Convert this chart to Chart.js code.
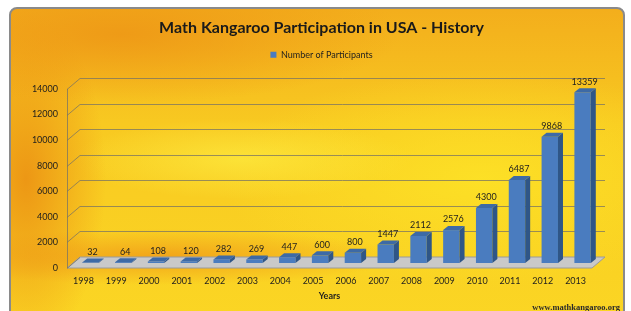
<!DOCTYPE html>
<html>
<head>
<meta charset="utf-8">
<script src="https://cdn.jsdelivr.net/npm/chart.js"></script>
<style>
  html, body { margin: 0; padding: 0; background: #fff; overflow: hidden; }
  #frame {
    position: absolute; left: 9px; top: 7px; width: 612px; height: 330px;
    border: 2px solid #8a8a8a; border-radius: 8px;
    background:
      radial-gradient(ellipse 280px 70px at 110px 25px, rgba(238,152,22,0.9), rgba(238,152,22,0) 100%),
      radial-gradient(ellipse 80px 170px at 15px 170px, rgba(236,148,20,0.95), rgba(236,148,20,0) 100%),
      radial-gradient(ellipse 240px 28px at 150px 248px, rgba(240,156,24,0.85), rgba(240,156,24,0) 100%),
      radial-gradient(ellipse 170px 40px at 230px 150px, rgba(253,232,60,0.8), rgba(253,232,60,0) 100%),
      radial-gradient(ellipse 260px 110px at 470px 170px, rgba(253,226,38,0.9), rgba(253,226,38,0) 100%),
      linear-gradient(180deg, #f3ae1c 0%, #f8c921 35%, #fbd724 100%);
  }
  #chart { position: absolute; left: 0; top: 0; }
</style>
</head>
<body>
<div id="frame"></div>
<canvas id="chart" width="631" height="311"></canvas>
<script>
const YEARS = ['1998', '1999', '2000', '2001', '2002', '2003', '2004', '2005',
               '2006', '2007', '2008', '2009', '2010', '2011', '2012', '2013'];
const PARTICIPANTS = [32, 64, 108, 120, 282, 269, 447, 600,
                      800, 1447, 2112, 2576, 4300, 6487, 9868, 13359];
const Y_MAX = 14000;
const Y_STEP = 2000;

const FONT = 'Lato';
const TEXT = '#1e1e1e';

// depth of the floor / back wall, and of each bar
const DEPTH_X = 13, DEPTH_Y = -11;
const BAR_DX = 5, BAR_DY = -4;

const pseudo3d = {
  id: 'pseudo3d',
  beforeDatasetsDraw(chart) {
    const { ctx, chartArea: a, scales: { y } } = chart;
    ctx.save();
    // floor slab
    ctx.fillStyle = '#c9c9c9';
    ctx.beginPath();
    ctx.moveTo(a.left, a.bottom);
    ctx.lineTo(a.right, a.bottom);
    ctx.lineTo(a.right + DEPTH_X, a.bottom + DEPTH_Y);
    ctx.lineTo(a.left + DEPTH_X, a.bottom + DEPTH_Y);
    ctx.closePath();
    ctx.fill();
    ctx.strokeStyle = '#9a9a9a';
    ctx.lineWidth = 1;
    ctx.stroke();

    // grid lines on the back wall + side wall diagonals
    ctx.strokeStyle = 'rgba(120,115,100,0.75)';
    y.ticks.forEach(t => {
      const py = Math.round(y.getPixelForValue(t.value)) + 0.5;
      ctx.beginPath();
      ctx.moveTo(a.left, py);
      ctx.lineTo(a.left + DEPTH_X, py + DEPTH_Y);
      if (t.value > 0) ctx.lineTo(a.right + DEPTH_X, py + DEPTH_Y);
      ctx.stroke();
    });
    // front value axis
    ctx.beginPath();
    ctx.moveTo(a.left + 0.5, a.top);
    ctx.lineTo(a.left + 0.5, a.bottom);
    ctx.stroke();
    ctx.restore();

    // bars sit half way into the depth
    ctx.save();
    ctx.translate(Math.round(DEPTH_X / 2), Math.round(DEPTH_Y / 2));
  },
  afterDatasetsDraw(chart) {
    const { ctx } = chart;
    const meta = chart.getDatasetMeta(0);
    meta.data.forEach((bar, i) => {
      const { x, y, base, width } = bar.getProps(['x', 'y', 'base', 'width'], true);
      const l = x - width / 2, r = x + width / 2;
      // right side
      ctx.fillStyle = '#2f5687';
      ctx.beginPath();
      ctx.moveTo(r, y);
      ctx.lineTo(r + BAR_DX, y + BAR_DY);
      ctx.lineTo(r + BAR_DX, base + BAR_DY);
      ctx.lineTo(r, base);
      ctx.closePath();
      ctx.fill();
      // top
      ctx.fillStyle = '#3d6aa6';
      ctx.beginPath();
      ctx.moveTo(l, y);
      ctx.lineTo(l + BAR_DX, y + BAR_DY);
      ctx.lineTo(r + BAR_DX, y + BAR_DY);
      ctx.lineTo(r, y);
      ctx.closePath();
      ctx.fill();
      // value label
      ctx.fillStyle = TEXT;
      ctx.font = '9px ' + FONT;
      ctx.textAlign = 'center';
      ctx.textBaseline = 'bottom';
      ctx.fillText(String(PARTICIPANTS[i]), x + 2, y + BAR_DY - 2);
    });
    ctx.restore();
  },
  afterDraw(chart) {
    const { ctx } = chart;
    ctx.save();
    ctx.fillStyle = '#2a2a2a';
    ctx.font = 'bold 8.5px "Liberation Serif"';
    ctx.textAlign = 'right';
    ctx.textBaseline = 'alphabetic';
    ctx.fillText('www.mathkangaroo.org', 620, 310);
    ctx.restore();
  }
};

new Chart(document.getElementById('chart'), {
  type: 'bar',
  data: {
    labels: YEARS,
    datasets: [{
      label: 'Number of Participants',
      data: PARTICIPANTS,
      backgroundColor: '#4a7cbf',
      borderWidth: 0,
      categoryPercentage: 1,
      barPercentage: 0.5
    }]
  },
  options: {
    responsive: false,
    animation: false,
    layout: { padding: { left: 12, right: 0, top: 0, bottom: 0 } },
    plugins: {
      title: {
        display: true,
        text: 'Math Kangaroo Participation in USA - History',
        color: '#1a1a1a',
        font: { family: FONT, size: 16, weight: 'bold' },
        padding: { top: 18, bottom: 8 }
      },
      legend: {
        weight: 1800,
        labels: {
          boxWidth: 6, boxHeight: 6, padding: 5,
          color: TEXT,
          font: { family: FONT, size: 9 }
        }
      },
      // empty spacer between legend and plot
      subtitle: {
        display: true,
        text: '',
        font: { size: 10, lineHeight: 1 },
        padding: { top: 5, bottom: 4.8 }
      },
      tooltip: { enabled: false }
    },
    scales: {
      x: {
        grid: { display: false, drawTicks: false },
        border: { display: false },
        ticks: { color: TEXT, font: { family: FONT, size: 9 }, padding: 8, maxRotation: 0 },
        title: {
          display: true, text: 'Years', color: TEXT,
          font: { family: FONT, size: 9, weight: 'bold' },
          padding: { top: 4, bottom: 9.6 }
        },
        afterFit(s) { s.height = 43; }
      },
      y: {
        min: 0, max: Y_MAX,
        grid: { display: false, drawTicks: false },
        border: { display: false },
        ticks: {
          stepSize: Y_STEP, color: TEXT, font: { family: FONT, size: 9 }, padding: 9,
          callback: v => String(v)
        },
        afterFit(s) { s.width = 55; }
      },
      spacer: {
        position: 'right',
        grid: { display: false, drawTicks: false },
        border: { display: false },
        ticks: { display: false },
        afterFit(s) { s.width = 39; }
      }
    }
  },
  plugins: [pseudo3d]
});
</script>
</body>
</html>
